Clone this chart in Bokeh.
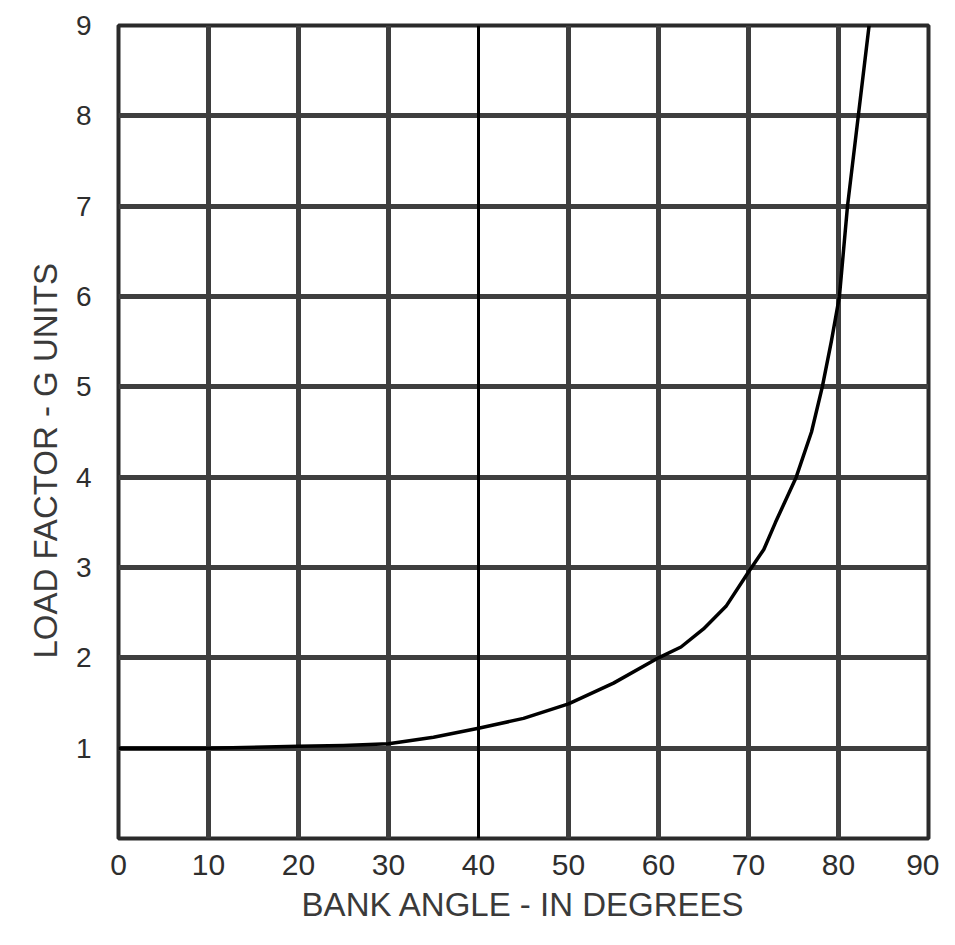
from bokeh.plotting import figure
from bokeh.models import FixedTicker, Range1d, Span, Title
from bokeh.embed import file_html
from bokeh.resources import INLINE

# Data
bank_angle = [0, 10, 20, 25, 30, 35, 40, 45, 50, 55, 60, 62.5, 65, 67.5, 70, 71.7, 73, 75.3, 77, 78.2, 79.2, 80.1, 81, 82.2, 83.4]
load_factor = [1.0, 1.0, 1.02, 1.03, 1.05, 1.12, 1.22, 1.33, 1.49, 1.72, 2.0, 2.12, 2.32, 2.57, 2.95, 3.2, 3.5, 4.0, 4.5, 5.0, 5.5, 6.0, 7.0, 8.0, 9.0]

x_ticks = [0, 10, 20, 30, 40, 50, 60, 70, 80, 90]
y_ticks = [1, 2, 3, 4, 5, 6, 7, 8, 9]
x_title = "BANK ANGLE - IN DEGREES"
y_title = "LOAD FACTOR - G UNITS"

FONT = "Liberation Sans"
GRID = "#3e3e3e"
TEXT = "#2e2e2e"

p = figure(width=939, height=929, output_backend="svg", toolbar_location=None,
           x_range=Range1d(0, 90), y_range=Range1d(0, 9),
           min_border_left=118, min_border_right=11, min_border_top=25, min_border_bottom=91)

p.background_fill_color = "white"
p.border_fill_color = "white"
p.outline_line_color = "#2a2a2a"
p.outline_line_width = 4

p.xaxis.ticker = FixedTicker(ticks=x_ticks)
p.yaxis.ticker = FixedTicker(ticks=y_ticks)
p.xgrid.ticker = FixedTicker(ticks=[t for t in x_ticks[1:-1] if t != 40])
p.ygrid.ticker = FixedTicker(ticks=y_ticks[:-1])
for g in (p.xgrid, p.ygrid):
    g.grid_line_color = GRID
    g.grid_line_width = 5
    g.grid_line_alpha = 1.0

# the 40-degree line is drawn thinner and black in the original
p.add_layout(Span(location=40, dimension="height", line_color="black", line_width=3))

for ax in (p.xaxis, p.yaxis):
    ax.axis_line_color = None
    ax.major_tick_line_color = None
    ax.minor_tick_line_color = None
    ax.major_label_text_font = FONT
    ax.major_label_text_color = TEXT
p.xaxis.major_label_text_font_size = "30px"
p.yaxis.major_label_text_font_size = "28px"
p.xaxis.major_label_standoff = 10
p.yaxis.major_label_standoff = 21

p.line(bank_angle, load_factor, line_color="black", line_width=3.5, line_join="round")

p.add_layout(Title(text=x_title, align="center", text_font=FONT, text_font_size="33px",
                   text_font_style="normal", text_color="#3a3a3a", standoff=12,
                   vertical_align="bottom"), "below")
p.add_layout(Title(text=y_title, align="left", offset=180, text_font=FONT,
                   text_font_size="33px", text_font_style="normal", text_color="#3a3a3a",
                   standoff=18), "left")

open("out.html", "w").write(file_html(p, INLINE))
